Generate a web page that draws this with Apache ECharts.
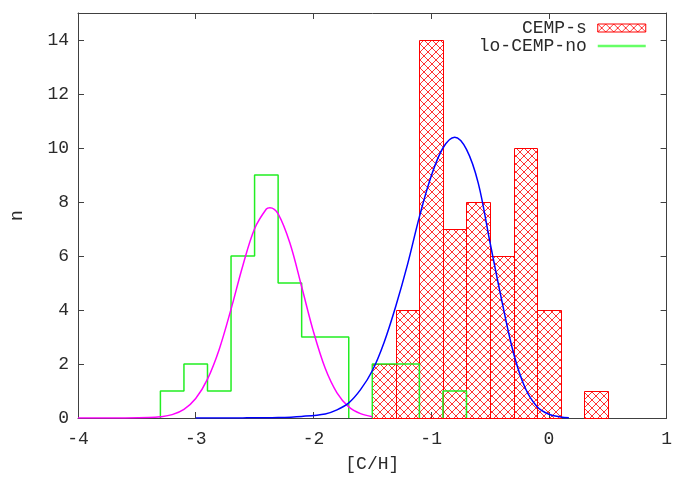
<!DOCTYPE html>
<html>
<head>
<meta charset="utf-8">
<script src="https://cdn.jsdelivr.net/npm/echarts@6/dist/echarts.min.js"></script>
<style>
  html, body { margin: 0; padding: 0; background: #fff; }
  #chart { width: 675px; height: 478px; }
</style>
</head>
<body>
<div id="chart"></div>
<script>
// Histogram bins (lower edge, width 0.2 dex)
const binWidth = 0.2;
const cempSLo = [-1.5, -1.3, -1.1, -0.9, -0.7, -0.5, -0.3, -0.1, 0.3];
const cempSCounts = [2, 4, 14, 7, 8, 6, 10, 4, 1];

const loNoLo = [-3.3, -3.1, -2.9, -2.7, -2.5, -2.3, -2.1, -1.9, -1.7, -1.5, -1.3, -1.1, -0.9];
const loNoCounts = [1, 2, 1, 6, 9, 5, 3, 3, 0, 2, 2, 0, 1];

// Gaussian fits, sampled points
const fitNoX = [-4.0, -3.6, -3.4, -3.3, -3.2, -3.1, -3.0, -2.9, -2.8, -2.7, -2.6, -2.5, -2.4, -2.37, -2.3, -2.2, -2.1, -2.0, -1.9, -1.8, -1.7, -1.6, -1.5];
const fitNoY = [0, 0.002, 0.014, 0.045, 0.125, 0.32, 0.72, 1.44, 2.55, 4.03, 5.64, 7.01, 7.74, 7.79, 7.56, 6.48, 4.86, 3.2, 1.84, 0.93, 0.41, 0.16, 0.05];

const fitSX = [-3.0, -2.6, -2.3, -2.1, -1.9, -1.8, -1.7, -1.6, -1.5, -1.4, -1.3, -1.2, -1.1, -1.0, -0.9, -0.8, -0.7, -0.6, -0.5, -0.4, -0.3, -0.2, -0.1, 0.0, 0.1, 0.17];
const fitSY = [0, 0.004, 0.02, 0.06, 0.15, 0.3, 0.56, 1.05, 1.75, 2.8, 4.15, 5.7, 7.45, 8.95, 10.0, 10.4, 9.95, 8.7, 6.5, 4.35, 2.4, 1.1, 0.42, 0.14, 0.04, 0.01];

const xTicks = { min: -4, max: 1, step: 1 };
const yTicks = { min: 0, max: 15, step: 2 };

// Cross-hatch fill
function makeHatch() {
  const c = document.createElement('canvas');
  c.width = 8; c.height = 8;
  const g = c.getContext('2d');
  g.strokeStyle = 'rgba(255,0,0,0.8)';
  g.lineWidth = 1;
  g.beginPath();
  g.moveTo(0, 0); g.lineTo(8, 8);
  g.moveTo(8, 0); g.lineTo(0, 8);
  g.moveTo(-4, 4); g.lineTo(4, 12);
  g.moveTo(4, -4); g.lineTo(12, 4);
  g.moveTo(4, -4); g.lineTo(-4, 4);
  g.moveTo(12, 4); g.lineTo(4, 12);
  g.stroke();
  return c;
}
const hatch = { image: makeHatch(), repeat: 'repeat' };

const FONT = 'Liberation Mono';
const TXT = '#2a2a2a';
const AXC = '#404040';
const GREEN = '#22ee22';

// Outline segments of the step histogram (split where counts drop to zero)
function stepRuns(lo, counts) {
  const runs = [];
  let cur = null;
  for (let i = 0; i < lo.length; i++) {
    const a = lo[i], b = +(lo[i] + binWidth).toFixed(3), c = counts[i];
    if (c > 0) {
      if (!cur) { cur = [[a, 0]]; }
      cur.push([a, c], [b, c]);
    } else if (cur) {
      cur.push([a, 0]); runs.push(cur); cur = null;
    }
  }
  if (cur) { const last = cur[cur.length - 1]; cur.push([last[0], 0]); runs.push(cur); }
  return runs;
}

const series = [];

series.push({
  name: 'CEMP-s',
  type: 'custom',
  data: cempSLo.map((lo, i) => [lo, +(lo + binWidth).toFixed(3), cempSCounts[i]]),
  encode: { x: [0, 1], y: 2 },
  itemStyle: { color: hatch, borderColor: '#ff0000', borderWidth: 1 },
  renderItem: function (params, api) {
    const p0 = api.coord([api.value(0), 0]);
    const p1 = api.coord([api.value(1), api.value(2)]);
    const x0 = Math.round(p0[0]) + 0.5, x1 = Math.round(p1[0]) + 0.5;
    const y0 = Math.round(p0[1]) + 0.5, y1 = Math.round(p1[1]) + 0.5;
    return {
      type: 'rect',
      shape: { x: x0, y: y1, width: x1 - x0, height: y0 - y1 },
      style: { fill: hatch, stroke: '#ff0000', lineWidth: 1 }
    };
  },
  z: 2
});

stepRuns(loNoLo, loNoCounts).forEach(run => {
  series.push({
    name: 'lo-CEMP-no',
    type: 'line',
    data: run,
    symbol: 'none',
    lineStyle: { color: GREEN, width: 1.5 },
    itemStyle: { color: GREEN },
    z: 3
  });
});

series.push({
  name: 'fitNo',
  type: 'line',
  data: fitNoX.map((x, i) => [x, fitNoY[i]]),
  symbol: 'none',
  smooth: 0.35,
  lineStyle: { color: '#ff00ff', width: 1.5 },
  z: 4
});

series.push({
  name: 'fitS',
  type: 'line',
  data: fitSX.map((x, i) => [x, fitSY[i]]),
  symbol: 'none',
  smooth: 0.35,
  lineStyle: { color: '#0000ff', width: 1.5 },
  z: 4
});

const tickStyle = { show: true, inside: true, length: 6, lineStyle: { color: AXC } };
const lineStyle = { show: true, onZero: false, lineStyle: { color: AXC, width: 1 } };

const option = {
  animation: false,
  backgroundColor: '#ffffff',
  grid: { left: 74, right: 6, top: 13, bottom: 54, containLabel: false },
  legend: {
    orient: 'vertical',
    right: 23,
    top: 14,
    align: 'right',
    itemWidth: 48,
    itemHeight: 8,
    itemGap: 0,
    textStyle: { fontFamily: FONT, fontSize: 18, color: TXT, lineHeight: 17, padding: [0, 6, 0, 0] },
    data: [
      { name: 'CEMP-s', icon: 'rect', itemStyle: { color: hatch, borderColor: '#ff0000', borderWidth: 1 } },
      { name: 'lo-CEMP-no', itemStyle: { opacity: 0 }, lineStyle: { color: '#66ff66', width: 2.5 } }
    ]
  },
  xAxis: [
    {
      type: 'value', min: xTicks.min, max: xTicks.max, interval: xTicks.step,
      position: 'bottom',
      axisLine: lineStyle, axisTick: tickStyle, splitLine: { show: false },
      axisLabel: { fontFamily: FONT, fontSize: 18, color: TXT, margin: 12 },
      name: '[C/H]', nameLocation: 'middle', nameGap: 37,
      nameTextStyle: { fontFamily: FONT, fontSize: 18, color: TXT }
    },
    {
      type: 'value', min: xTicks.min, max: xTicks.max, interval: xTicks.step,
      position: 'top',
      axisLine: lineStyle, axisTick: tickStyle, splitLine: { show: false },
      axisLabel: { show: false }
    }
  ],
  yAxis: [
    {
      type: 'value', min: yTicks.min, max: yTicks.max, interval: yTicks.step,
      position: 'left',
      axisLine: lineStyle, axisTick: tickStyle, splitLine: { show: false },
      axisLabel: {
        fontFamily: FONT, fontSize: 18, color: TXT, margin: 9,
        formatter: v => (v % yTicks.step === 0 ? String(v) : '')
      },
      name: 'n', nameLocation: 'middle', nameGap: 52, nameRotate: 90,
      nameTextStyle: { fontFamily: FONT, fontSize: 18, color: TXT }
    },
    {
      type: 'value', min: yTicks.min, max: yTicks.max, interval: yTicks.step,
      position: 'right',
      axisLine: lineStyle, axisTick: tickStyle, splitLine: { show: false },
      axisLabel: { show: false }
    }
  ],
  series: series
};

const chart = echarts.init(document.getElementById('chart'), null, { renderer: 'canvas' });
chart.setOption(option);
</script>
</body>
</html>
